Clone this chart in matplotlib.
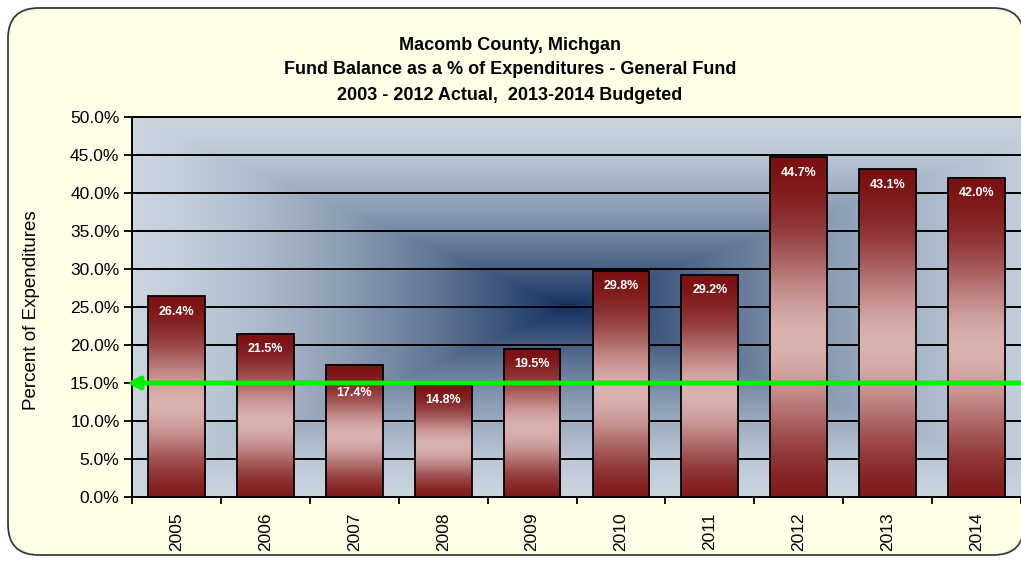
import matplotlib.pyplot as plt
import numpy as np
from matplotlib.patches import FancyBboxPatch
from matplotlib.ticker import PercentFormatter

plt.rcParams["font.family"] = ["Liberation Sans", "DejaVu Sans"]

# data
years = ["2005", "2006", "2007", "2008", "2009", "2010", "2011", "2012", "2013", "2014"]
fund_pct = [26.4, 21.5, 17.4, 14.8, 19.5, 29.8, 29.2, 44.7, 43.1, 42.0]
target_pct = 15.0
title_lines = [
    "Macomb County, Michgan",
    "Fund Balance as a % of Expenditures - General Fund",
    "2003 - 2012 Actual,  2013-2014 Budgeted",
]
y_ticks = [0, 5, 10, 15, 20, 25, 30, 35, 40, 45, 50]

W, H = 1021, 563
fig = plt.figure(figsize=(W / 100, H / 100), dpi=100, facecolor="white")

# rounded chart frame (runs off the right edge like the screenshot)
frame = FancyBboxPatch(
    (8 / W, 8 / H), (1024 - 8) / W, (555 - 8) / H,
    boxstyle="round,pad=0,rounding_size=0.03",
    transform=fig.transFigure, facecolor="#FFFFE8", edgecolor="#3A3A3A",
    linewidth=1.3, mutation_aspect=W / H, zorder=0,
)
fig.patches.append(frame)

ax = fig.add_axes([132 / W, 1 - 497 / H, (W - 132) / W, (497 - 117) / H])
ax.set_zorder(2)
ax.set_facecolor("none")

# "from center" rectangular gradient behind the plot
nx, ny = 600, 300
u = np.linspace(0, 1, nx)
v = np.linspace(0, 1, ny)
U, V = np.meshgrid(u, v)
cx, cy = 0.49, 0.5
dx = np.where(U < cx, (cx - U) / 0.49, (U - cx) / 0.58)
t = np.maximum(dx, np.abs(V - cy) / 0.5)
t = np.clip(t, 0, 1)
dark = np.array([0x14, 0x30, 0x60]) / 255
light = np.array([0xC9, 0xD4, 0xDF]) / 255
w = (1 - t) ** 1.5
bg = light[None, None, :] * (1 - w[..., None]) + dark[None, None, :] * w[..., None]
ax.imshow(bg, extent=(0, 1, 0, 1), transform=ax.transAxes, aspect="auto",
          origin="lower", zorder=0, interpolation="bilinear")

for yv in y_ticks[1:]:
    ax.axhline(yv, color="black", lw=1.4, zorder=1)

# bars with a smooth dark-light-dark red gradient
red_dark = np.array([0x7A, 0x10, 0x12]) / 255
red_light = np.array([0xD9, 0xB1, 0xAF]) / 255
p = np.linspace(0, 1, 200)
mix = np.exp(-(((p - 0.46) / 0.3) ** 2))
mix = (mix - mix.min()) / (mix.max() - mix.min())
grad = (red_dark[None, :] * (1 - mix[:, None]) + red_light[None, :] * mix[:, None])[:, None, :]
x = np.arange(len(years))
bars = ax.bar(x, fund_pct, width=0.64, facecolor="none", edgecolor="black",
              linewidth=1.3, zorder=3)
for rect in bars:
    x0, h = rect.get_x(), rect.get_height()
    ax.imshow(grad, extent=(x0, x0 + rect.get_width(), 0, h),
              aspect="auto", origin="lower", zorder=2, interpolation="bilinear")

# value labels just inside the bar top; pushed below the target line if they would sit on it
for xi, val in zip(x, fund_pct):
    dy = -11
    if 0 < val - target_pct < 3.5:
        dy = -20
    ax.annotate(f"{val:.1f}%", (xi, val), xytext=(0, dy), textcoords="offset points",
                ha="center", va="center", color="white", fontsize=9, fontweight="bold",
                zorder=5)

# 15% target arrow
ax.annotate("", xy=(-0.56, target_pct), xytext=(9.6, target_pct),
            arrowprops=dict(arrowstyle="-|>", color="#00F000", lw=3.5,
                            mutation_scale=18, shrinkA=0, shrinkB=0),
            zorder=6, annotation_clip=False)

ax.set_xlim(-0.5, 9.5)
ax.set_ylim(0, 50)
ax.set_yticks(y_ticks)
ax.yaxis.set_major_formatter(PercentFormatter(decimals=1))
ax.set_xticks(x)
ax.set_xticklabels(years, rotation=90)
ax.set_xticks(np.arange(-0.5, 10, 1), minor=True)
ax.tick_params(axis="x", which="major", length=0, pad=11, labelsize=12.5)
ax.tick_params(axis="x", which="minor", length=5, width=1.3, color="black")
ax.tick_params(axis="y", length=6, width=1.3, pad=3, labelsize=12.5)
for side in ["left", "bottom", "top"]:
    ax.spines[side].set_linewidth(1.4)
ax.spines["right"].set_visible(False)

fig.text(31 / W, 1 - 310 / H, "Percent of Expenditures", rotation=90,
         ha="center", va="center", fontsize=13.5)

for yy, line in zip([45, 70, 95], title_lines):
    fig.text(510 / W, 1 - yy / H, line, ha="center", va="center",
             fontsize=13, fontweight="bold")

fig.savefig("out.png", dpi=100, facecolor="white")
